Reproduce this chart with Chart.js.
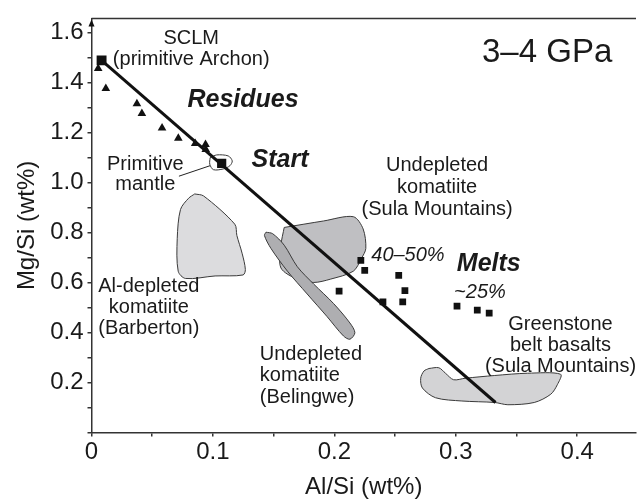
<!DOCTYPE html>
<html>
<head>
<meta charset="utf-8">
<script src="https://cdn.jsdelivr.net/npm/chart.js@4.4.0/dist/chart.umd.min.js"></script>
<style>
  html, body { margin: 0; padding: 0; background: #fff; }
  #wrap { width: 643px; height: 504px; }
</style>
</head>
<body>
<div id="wrap"><canvas id="myChart" width="643" height="504"></canvas></div>
<script>
// trend line from SCLM through primitive mantle
var trendX = [0.0083, 0.3327];
var trendY = [1.488, 0.120];

// SCLM and primitive mantle markers
var sclmX = [0.0083];
var sclmY = [1.488];
var pmX = [0.1072];
var pmY = [1.076];

// residues (triangles)
var resX = [0.0055, 0.0118, 0.0374, 0.0415, 0.0581, 0.0715, 0.0854, 0.0939, 0.0941];
var resY = [1.456, 1.376, 1.315, 1.276, 1.218, 1.177, 1.156, 1.152, 1.132];

// melts (squares)
var meltX = [0.2218, 0.2250, 0.2530, 0.2581, 0.2039, 0.2400, 0.2563, 0.3010, 0.3177, 0.3275];
var meltY = [0.688, 0.648, 0.628, 0.567, 0.565, 0.522, 0.522, 0.505, 0.489, 0.477];

// outline around primitive mantle
var pmFieldX = [0.0977, 0.1031, 0.1126, 0.1159, 0.1140, 0.1085, 0.1004, 0.0974, 0.0977];
var pmFieldY = [1.099, 1.110, 1.106, 1.086, 1.067, 1.054, 1.051, 1.073, 1.099];

// Al-depleted komatiite (Barberton) field
var barbX = [0.085, 0.0923, 0.118, 0.1197, 0.124, 0.1267, 0.1248, 0.1018, 0.0774, 0.0714, 0.0706, 0.0733, 0.080, 0.085];
var barbY = [0.954, 0.946, 0.833, 0.788, 0.717, 0.652, 0.630, 0.626, 0.616, 0.645, 0.775, 0.892, 0.937, 0.954];

// Undepleted komatiite (Sula Mountains) field
var sulaX = [0.1587, 0.1912, 0.2156, 0.2237, 0.2259, 0.2224, 0.2156, 0.1966, 0.1831, 0.1695, 0.156, 0.156, 0.1587];
var sulaY = [0.820, 0.846, 0.863, 0.814, 0.736, 0.697, 0.645, 0.613, 0.600, 0.613, 0.658, 0.749, 0.820];

// Undepleted komatiite (Belingwe) field
var belX = [0.1437, 0.1492, 0.1587, 0.1695, 0.1831, 0.1993, 0.2128, 0.2169, 0.2128, 0.2075, 0.1939, 0.1776, 0.1614, 0.1478, 0.1424, 0.1437];
var belY = [0.801, 0.795, 0.749, 0.663, 0.593, 0.516, 0.438, 0.399, 0.373, 0.386, 0.464, 0.554, 0.645, 0.736, 0.788, 0.801];

// Greenstone belt basalts field
var gsX = [0.2779, 0.286, 0.2915, 0.2982, 0.3077, 0.3321, 0.3592, 0.3863, 0.3836, 0.3782, 0.3646, 0.3429, 0.3321, 0.305, 0.2833, 0.2725, 0.2711, 0.2738, 0.2779];
var gsY = [0.256, 0.259, 0.237, 0.211, 0.217, 0.228, 0.237, 0.233, 0.191, 0.153, 0.120, 0.111, 0.120, 0.126, 0.139, 0.178, 0.217, 0.246, 0.256];

// leader line for "Primitive mantle"
var leadX = [0.072, 0.0977];
var leadY = [1.025, 1.067];

// axis ticks
var xTickStep = 0.05;
var yTickStep = 0.1;

var FONT = "'Liberation Sans', Arial, Helvetica, sans-serif";

function pts(xs, ys) {
    var out = [];
    for (var i = 0; i < xs.length; i++) out.push({x: xs[i], y: ys[i]});
    return out;
}

function field(xs, ys, fillCol, ord) {
    return {
        type: 'line', data: pts(xs, ys), showLine: true, fill: 'shape',
        backgroundColor: fillCol, borderColor: '#3a3a3a', borderWidth: 1,
        tension: 0.3, pointRadius: 0, order: ord
    };
}

// text notes, positioned in data units
var notes = [
    {lines: ['SCLM', '(primitive Archon)'], x: 0.0821, y: 1.574, font: 'normal 20px', align: 'center', lh: 21},
    {lines: ['3\u20134 GPa'], x: 0.3752, y: 1.519, font: 'normal 33px', align: 'center', lh: 34},
    {lines: ['Residues'], x: 0.1248, y: 1.329, font: 'italic bold 25px', align: 'center', lh: 26},
    {lines: ['Start'], x: 0.1553, y: 1.091, font: 'italic bold 25px', align: 'center', lh: 26},
    {lines: ['Primitive', 'mantle'], x: 0.0443, y: 1.072, font: 'normal 20px', align: 'center', lh: 20.5},
    {lines: ['Undepleted', 'komatiite', '(Sula Mountains)'], x: 0.2846, y: 1.067, font: 'normal 20px', align: 'center', lh: 21.7},
    {lines: ['40\u201350%'], x: 0.2606, y: 0.708, font: 'italic 20px', align: 'center', lh: 21},
    {lines: ['Melts'], x: 0.3272, y: 0.675, font: 'italic bold 25px', align: 'center', lh: 26},
    {lines: ['~25%'], x: 0.3199, y: 0.562, font: 'italic 20px', align: 'center', lh: 21},
    {lines: ['Al-depleted', 'komatiite', '(Barberton)'], x: 0.0472, y: 0.582, font: 'normal 20px', align: 'center', lh: 21},
    {lines: ['Undepleted', 'komatiite', '(Belingwe)'], x: 0.1386, y: 0.313, font: 'normal 20px', align: 'left', lh: 21.5},
    {lines: ['Greenstone', 'belt basalts', '(Sula Mountains)'], x: 0.3862, y: 0.431, font: 'normal 20px', align: 'center', lh: 20.8}
];

var notesPlugin = {
    id: 'notes',
    afterDatasetsDraw: function(chart) {
        var ctx = chart.ctx;
        var xs = chart.scales.x, ys = chart.scales.y;
        ctx.save();
        ctx.fillStyle = '#1a1a1a';
        ctx.textBaseline = 'middle';
        notes.forEach(function(n) {
            ctx.font = n.font + ' ' + FONT;
            ctx.textAlign = n.align;
            var px = xs.getPixelForValue(n.x);
            var py = ys.getPixelForValue(n.y);
            n.lines.forEach(function(t, i) {
                ctx.fillText(t, px, py + i * n.lh);
            });
        });
        ctx.restore();
    },
    afterDraw: function(chart) {
        // top frame line and the arrow on the y axis
        var ctx = chart.ctx, a = chart.chartArea;
        ctx.save();
        ctx.strokeStyle = '#333';
        ctx.lineWidth = 1.5;
        ctx.beginPath();
        ctx.moveTo(a.left, a.top);
        ctx.lineTo(a.right, a.top);
        ctx.stroke();
        ctx.fillStyle = '#111';
        ctx.beginPath();
        ctx.moveTo(a.left, a.top + 1);
        ctx.lineTo(a.left - 3, a.top + 8);
        ctx.lineTo(a.left + 3, a.top + 8);
        ctx.closePath();
        ctx.fill();
        ctx.restore();
    }
};

function onStep(v, step) {
    var k = v / step;
    return Math.abs(k - Math.round(k)) < 1e-6;
}

var ctx = document.getElementById('myChart');
var myChart = new Chart(ctx, {
    type: 'line',
    data: {
        datasets: [
            field(barbX, barbY, '#dcdcde', 20),
            field(sulaX, sulaY, '#bfbfc2', 19),
            field(belX, belY, '#aeaeb1', 18),
            field(gsX, gsY, '#d3d3d5', 17),
            field(pmFieldX, pmFieldY, '#ffffff', 16),
            {type: 'line', data: pts(leadX, leadY), showLine: true, borderColor: '#222', borderWidth: 1, pointRadius: 0, order: 15},
            {type: 'line', data: pts(trendX, trendY), showLine: true, borderColor: '#111', borderWidth: 3, pointRadius: 0, order: 10},
            {type: 'line', data: pts(resX, resY), showLine: false, pointStyle: 'triangle', pointRadius: 5, backgroundColor: '#111', borderColor: '#111', borderWidth: 0, order: 5},
            {type: 'line', data: pts(meltX, meltY), showLine: false, pointStyle: 'rect', pointRadius: 4.8, backgroundColor: '#111', borderColor: '#111', borderWidth: 0, order: 4},
            {type: 'line', data: pts(sclmX, sclmY), showLine: false, pointStyle: 'rect', pointRadius: 7, backgroundColor: '#111', borderColor: '#111', borderWidth: 0, order: 3},
            {type: 'line', data: pts(pmX, pmY), showLine: false, pointStyle: 'rect', pointRadius: 6.5, backgroundColor: '#111', borderColor: '#111', borderWidth: 0, order: 2}
        ]
    },
    options: {
        responsive: false,
        animation: false,
        layout: {padding: {top: 7, right: 0, left: 0, bottom: 0}},
        plugins: {legend: {display: false}, tooltip: {enabled: false}},
        scales: {
            x: {
                type: 'linear', min: 0, max: 0.4484,
                afterFit: function(s) { s.height = 71.5; },
                border: {display: true, color: '#333', width: 1.5},
                grid: {display: true, drawOnChartArea: false, drawTicks: true, tickLength: 4, color: '#333', lineWidth: 1.5},
                ticks: {
                    stepSize: xTickStep, includeBounds: false, autoSkip: false, maxRotation: 0,
                    padding: 1, color: '#1a1a1a', font: {family: FONT, size: 24},
                    callback: function(v) {
                        if (!onStep(v, 0.1)) return '';
                        return v === 0 ? '0' : v.toFixed(1);
                    }
                },
                title: {display: true, text: 'Al/Si (wt%)', color: '#1a1a1a', font: {family: FONT, size: 24}, padding: {top: 0, bottom: 2}}
            },
            y: {
                type: 'linear', min: 0, max: 1.656,
                afterFit: function(s) { s.width = 91.5; },
                border: {display: true, color: '#333', width: 1.5},
                grid: {display: true, drawOnChartArea: false, drawTicks: true, tickLength: 4, color: '#333', lineWidth: 1.5},
                ticks: {
                    stepSize: yTickStep, includeBounds: false, autoSkip: false,
                    padding: 4, color: '#1a1a1a', font: {family: FONT, size: 24},
                    callback: function(v) {
                        if (v <= 0 || !onStep(v, 0.2)) return '';
                        return v.toFixed(1);
                    }
                },
                title: {display: true, text: 'Mg/Si (wt%)', color: '#1a1a1a', font: {family: FONT, size: 24}, padding: {top: 13, bottom: 0}}
            }
        }
    },
    plugins: [notesPlugin]
});
</script>
</body>
</html>
